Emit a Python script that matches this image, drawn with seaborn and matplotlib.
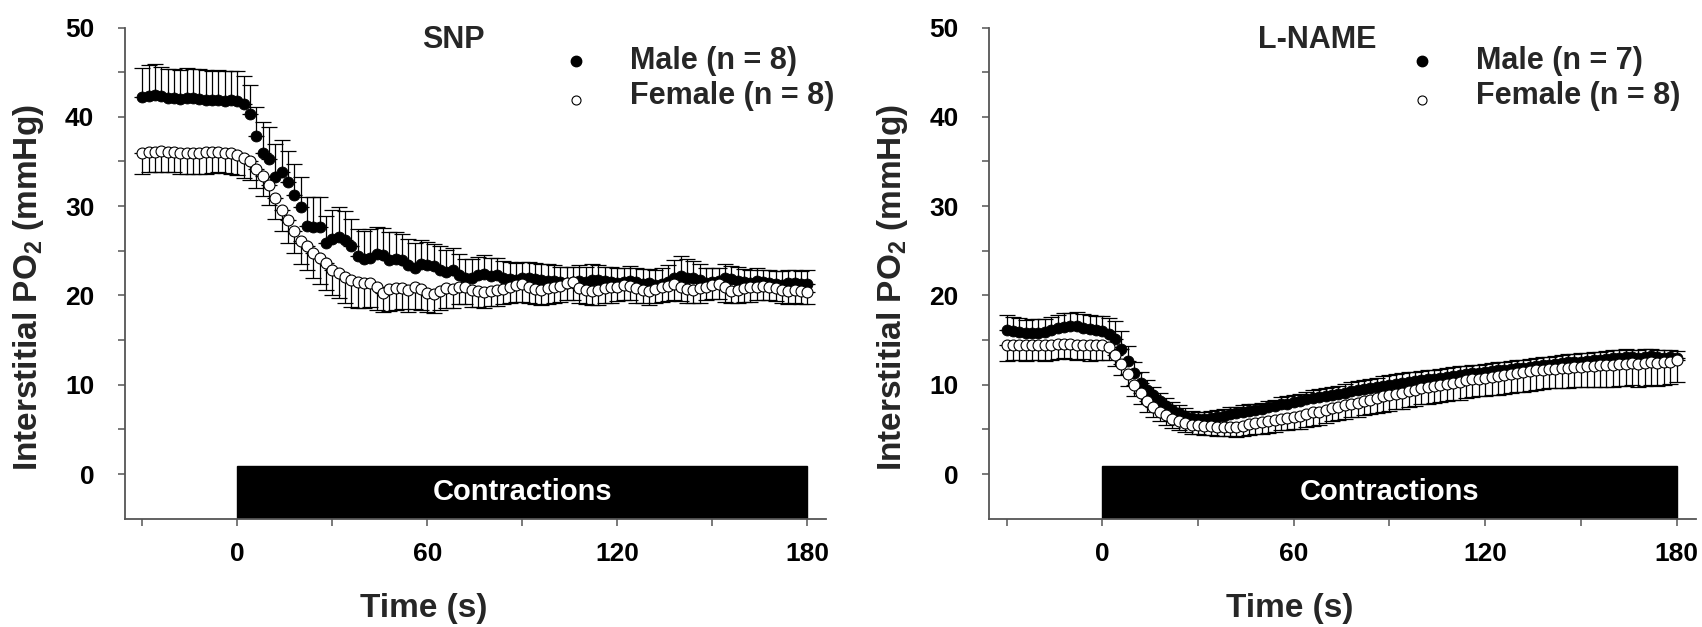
import numpy as np
import pandas as pd
import matplotlib
matplotlib.use("Agg")
import matplotlib.pyplot as plt
import seaborn as sns

# ---------------- data ----------------
time_s = list(range(-30, 181, 2))

snp_male = [42.2, 42.3, 42.5, 42.3, 42.1, 42.1, 42.0, 42.1, 42.1, 42.0, 41.9, 41.9, 41.9, 41.8, 41.9, 41.8,
            41.4, 40.3, 37.8, 36.0, 35.3, 33.3, 33.8, 32.7, 31.3, 29.9, 27.8, 27.7, 27.7, 25.9, 26.3, 26.5,
            26.2, 25.5, 24.4, 24.1, 24.2, 24.6, 24.5, 24.0, 24.1, 24.0, 23.4, 23.1, 23.5, 23.4, 23.3, 22.9,
            22.6, 22.9, 22.3, 21.9, 22.0, 22.3, 22.4, 22.2, 22.3, 22.0, 21.8, 21.7, 22.0, 21.9, 21.8, 21.7,
            21.6, 21.6, 21.5, 21.4, 21.5, 21.6, 21.5, 21.7, 21.7, 21.6, 21.5, 21.4, 21.5, 21.6, 21.5, 21.3,
            21.4, 21.2, 21.3, 21.5, 21.9, 22.2, 22.0, 21.9, 21.7, 21.4, 21.5, 21.6, 21.9, 21.8, 21.6, 21.5,
            21.4, 21.6, 21.5, 21.4, 21.3, 21.2, 21.4, 21.4, 21.3, 21.3]
snp_male_sem = [3.3, 3.5, 3.4, 3.3, 3.2, 3.3, 3.2, 3.4, 3.3, 3.4, 3.3, 3.2, 3.3, 3.3, 3.2, 3.3,
                3.2, 3.3, 3.3, 3.4, 3.6, 3.7, 3.6, 3.5, 3.4, 3.4, 3.2, 3.3, 3.3, 3.0, 3.3, 3.4,
                3.2, 3.1, 3.0, 3.1, 3.2, 3.1, 3.0, 3.1, 3.0, 2.9, 2.9, 2.8, 2.7, 2.6, 2.5, 2.6,
                2.5, 2.4, 2.3, 2.2, 2.1, 2.0, 2.1, 2.0, 1.9, 1.9, 2.0, 1.9, 1.8, 1.9, 1.8, 1.8,
                1.9, 1.8, 1.7, 1.8, 1.7, 1.8, 1.7, 1.8, 1.7, 1.6, 1.7, 1.7, 1.6, 1.7, 1.6, 1.7,
                1.6, 1.7, 1.8, 1.9, 2.1, 2.2, 2.1, 2.0, 1.8, 1.7, 1.6, 1.5, 1.6, 1.5, 1.6, 1.5,
                1.4, 1.5, 1.4, 1.5, 1.4, 1.5, 1.4, 1.5, 1.4, 1.5]
snp_female = [36.0, 36.1, 36.1, 36.2, 36.1, 36.1, 36.0, 36.0, 35.9, 36.0, 36.1, 36.1, 36.1, 36.0, 35.9, 35.7,
              35.4, 35.0, 34.2, 33.4, 32.4, 30.9, 29.6, 28.4, 27.2, 26.1, 25.5, 24.8, 24.2, 23.6, 22.9, 22.5,
              22.1, 21.7, 21.5, 21.4, 21.4, 21.0, 20.3, 20.7, 20.8, 20.8, 20.6, 21.0, 20.7, 20.3, 20.2, 20.5,
              20.8, 20.7, 21.0, 20.9, 20.6, 20.5, 20.4, 20.5, 20.6, 20.7, 20.9, 21.2, 21.3, 20.9, 20.7, 20.6,
              20.8, 20.9, 21.1, 21.4, 21.5, 20.8, 20.6, 20.5, 20.6, 20.8, 20.9, 21.0, 21.2, 21.1, 20.8, 20.6,
              20.5, 20.7, 20.9, 21.1, 21.3, 21.0, 20.7, 20.6, 20.8, 21.0, 21.2, 21.3, 20.9, 20.5, 20.6, 20.8,
              20.9, 21.0, 21.1, 21.0, 20.8, 20.6, 20.5, 20.6, 20.5, 20.4]
snp_female_sem = [2.4, 2.3, 2.3, 2.4, 2.3, 2.3, 2.4, 2.4, 2.3, 2.4, 2.5, 2.4, 2.3, 2.3, 2.3, 2.2,
                  2.2, 2.1, 2.2, 2.3, 2.3, 2.3, 2.4, 2.5, 2.5, 2.6, 2.7, 2.8, 2.9, 3.0, 2.9, 2.8,
                  2.9, 3.0, 2.9, 2.8, 2.7, 2.6, 2.2, 2.4, 2.4, 2.3, 2.4, 2.5, 2.3, 2.2, 2.2, 2.1,
                  2.2, 2.1, 2.0, 1.9, 1.9, 1.8, 1.8, 1.7, 1.8, 1.7, 1.8, 1.9, 2.0, 1.8, 1.7, 1.7,
                  1.8, 1.7, 1.8, 1.9, 2.0, 1.7, 1.6, 1.6, 1.7, 1.6, 1.7, 1.6, 1.7, 1.6, 1.6, 1.5,
                  1.6, 1.5, 1.6, 1.7, 1.8, 1.6, 1.5, 1.5, 1.6, 1.5, 1.6, 1.7, 1.6, 1.4, 1.5, 1.5,
                  1.6, 1.5, 1.6, 1.5, 1.4, 1.5, 1.5, 1.4, 1.5, 1.4]

lname_male = [16.1, 16.0, 15.9, 15.8, 15.8, 15.8, 15.9, 16.1, 16.3, 16.5, 16.6, 16.6, 16.4, 16.2, 16.1, 16.0,
              15.7, 15.1, 14.0, 12.7, 11.3, 10.2, 9.4, 8.8, 8.2, 7.6, 7.2, 6.8, 6.5, 6.3, 6.2, 6.2,
              6.3, 6.4, 6.5, 6.7, 6.8, 7.0, 7.1, 7.2, 7.3, 7.5, 7.6, 7.8, 7.9, 8.1, 8.2, 8.4,
              8.5, 8.6, 8.7, 8.9, 9.0, 9.1, 9.3, 9.4, 9.5, 9.6, 9.7, 9.9, 10.0, 10.1, 10.2, 10.3,
              10.4, 10.5, 10.6, 10.7, 10.8, 10.9, 11.0, 11.1, 11.2, 11.3, 11.3, 11.4, 11.5, 11.6, 11.7, 11.8,
              11.9, 11.9, 12.0, 12.1, 12.2, 12.2, 12.3, 12.4, 12.5, 12.5, 12.6, 12.7, 12.8, 12.8, 12.9, 13.0,
              13.0, 13.1, 13.1, 13.0, 13.1, 13.2, 13.1, 13.0, 13.1, 13.0]
lname_male_sem = [1.7, 1.6, 1.6, 1.5, 1.6, 1.6, 1.5, 1.5, 1.5, 1.5, 1.4, 1.5, 1.5, 1.6, 1.6, 1.7,
                  1.8, 2.0, 2.0, 1.6, 1.3, 1.2, 1.1, 1.0, 0.9, 0.9, 0.9, 0.9, 0.9, 0.8, 0.8, 0.8,
                  0.8, 0.8, 0.8, 0.8, 0.7, 0.7, 0.7, 0.7, 0.7, 0.7, 0.7, 0.8, 0.8, 0.8, 0.8, 0.8,
                  0.9, 0.9, 0.9, 0.9, 0.9, 1.0, 1.0, 1.0, 1.0, 1.1, 1.1, 1.1, 1.1, 1.1, 1.1, 1.1,
                  1.0, 1.0, 1.0, 1.0, 1.0, 1.0, 1.0, 1.0, 0.9, 0.9, 0.9, 0.9, 0.9, 0.9, 0.9, 0.9,
                  0.9, 0.9, 0.9, 0.9, 0.9, 0.9, 0.9, 0.9, 0.9, 0.9, 0.9, 0.9, 0.9, 0.9, 0.9, 0.9,
                  0.9, 0.9, 0.8, 0.9, 0.9, 0.8, 0.8, 0.9, 0.8, 0.8]
lname_female = [14.4, 14.5, 14.4, 14.4, 14.5, 14.4, 14.4, 14.5, 14.6, 14.6, 14.6, 14.5, 14.5, 14.4, 14.4, 14.4,
                14.2, 13.3, 12.3, 11.2, 10.0, 9.1, 8.2, 7.5, 7.0, 6.6, 6.2, 5.9, 5.7, 5.5, 5.5, 5.4,
                5.4, 5.3, 5.3, 5.3, 5.3, 5.4, 5.6, 5.7, 5.8, 5.9, 6.0, 6.2, 6.3, 6.4, 6.5, 6.7,
                6.9, 7.0, 7.2, 7.4, 7.5, 7.7, 7.9, 8.0, 8.2, 8.3, 8.5, 8.7, 8.8, 9.0, 9.1, 9.3,
                9.4, 9.6, 9.7, 9.9, 10.0, 10.1, 10.2, 10.3, 10.5, 10.6, 10.7, 10.8, 10.9, 11.0, 11.1, 11.2,
                11.3, 11.4, 11.5, 11.6, 11.7, 11.8, 11.8, 11.9, 11.9, 12.0, 12.0, 12.1, 12.1, 12.2, 12.2, 12.2,
                12.3, 12.3, 12.4, 12.3, 12.4, 12.5, 12.4, 12.5, 12.6, 12.8]
lname_female_sem = [1.7, 1.7, 1.6, 1.7, 1.7, 1.6, 1.7, 1.7, 1.7, 1.6, 1.7, 1.7, 1.6, 1.7, 1.6, 1.6,
                    1.4, 1.2, 1.2, 1.3, 1.3, 1.2, 1.2, 1.1, 1.1, 1.1, 1.0, 1.0, 1.0, 1.0, 1.0, 1.0,
                    1.0, 1.0, 1.0, 1.0, 1.1, 1.1, 1.2, 1.2, 1.3, 1.3, 1.3, 1.3, 1.4, 1.4, 1.4, 1.4,
                    1.5, 1.5, 1.5, 1.5, 1.5, 1.5, 1.5, 1.6, 1.6, 1.6, 1.7, 1.7, 1.7, 1.7, 1.8, 1.8,
                    1.8, 1.8, 1.9, 1.9, 1.9, 1.9, 1.9, 2.0, 2.0, 2.0, 2.0, 2.1, 2.1, 2.1, 2.1, 2.1,
                    2.1, 2.2, 2.2, 2.2, 2.2, 2.2, 2.2, 2.3, 2.3, 2.3, 2.3, 2.3, 2.3, 2.4, 2.4, 2.4,
                    2.4, 2.4, 2.4, 2.5, 2.5, 2.5, 2.5, 2.5, 2.5, 2.5]

panel_titles = ["SNP", "L-NAME"]
legend_labels = [["Male (n = 8)", "Female (n = 8)"], ["Male (n = 7)", "Female (n = 8)"]]
x_ticks = [0, 60, 120, 180]
x_minor = [-30, 30, 90, 150]
y_ticks = [0, 10, 20, 30, 40, 50]
y_minor = [5, 15, 25, 35, 45]
contraction_start, contraction_end = 0, 180
contraction_top = 0.9
contraction_label = "Contractions"

# ---------------- style ----------------
sns.set_theme(style="ticks")
plt.rcParams['font.family'] = ['Liberation Sans', 'DejaVu Sans']
plt.rcParams['font.weight'] = 'bold'
plt.rcParams['axes.labelweight'] = 'bold'
plt.rcParams['mathtext.fontset'] = 'custom'
plt.rcParams['mathtext.rm'] = 'Liberation Sans:bold'
plt.rcParams['mathtext.default'] = 'rm'

AX_COL = '#555555'
YMIN, YMAX = -5, 50
XMIN, XMAX = -35.5, 186

fig = plt.figure(figsize=(17.02, 6.27), dpi=100)
axes = [fig.add_axes([0.0734, 0.1727, 0.4122, 0.7834]),
        fig.add_axes([0.5811, 0.1727, 0.4152, 0.7834])]

panels = [
    (snp_male, snp_male_sem, snp_female, snp_female_sem),
    (lname_male, lname_male_sem, lname_female, lname_female_sem),
]

t = np.array(time_s)
for i, (ax, (m, msem, f, fsem)) in enumerate(zip(axes, panels)):
    m, msem, f, fsem = map(np.array, (m, msem, f, fsem))
    # contraction bar
    ax.bar(contraction_start, contraction_top - YMIN, width=contraction_end - contraction_start,
           bottom=YMIN, align='edge', color='black', edgecolor='black', zorder=1)
    ax.text((contraction_start + contraction_end) / 2, (contraction_top + YMIN) / 2, contraction_label,
            color='white', ha='center', va='center', fontsize=21, fontweight='bold', zorder=2)
    # male: error bars upward
    ax.errorbar(t, m, yerr=[np.zeros_like(msem), msem], fmt='none', ecolor='black',
                elinewidth=0.9, capsize=5.5, capthick=0.9, zorder=3)
    sns.scatterplot(x=t, y=m, ax=ax, color='black', edgecolor='black', s=62, linewidth=0.6,
                    zorder=4, legend=False)
    # female: error bars downward
    ax.errorbar(t, f, yerr=[fsem, np.zeros_like(fsem)], fmt='none', ecolor='black',
                elinewidth=0.9, capsize=5.5, capthick=0.9, zorder=5)
    sns.scatterplot(x=t, y=f, ax=ax, color='white', edgecolor='black', s=62, linewidth=0.8,
                    zorder=6, legend=False)

    ax.set_xlim(XMIN, XMAX)
    ax.set_ylim(YMIN, YMAX)
    ax.set_xticks(x_ticks)
    ax.set_xticks(x_minor, minor=True)
    ax.set_yticks(y_ticks)
    ax.set_yticks(y_minor, minor=True)
    ax.tick_params(axis='both', which='both', direction='out', length=5, width=1.1,
                   color=AX_COL, labelsize=19, labelcolor='black')
    ax.tick_params(axis='y', which='major', pad=17)
    ax.tick_params(axis='x', which='major', pad=12)
    for sp in ['top', 'right']:
        ax.spines[sp].set_visible(False)
    for sp in ['left', 'bottom']:
        ax.spines[sp].set_color(AX_COL)
        ax.spines[sp].set_linewidth(1.3)
    ax.set_facecolor('white')

    ax.set_xlabel("Time (s)", fontsize=24, fontweight='bold', va='center')
    ax.set_ylabel("Interstitial PO$_2$ (mmHg)", fontsize=24, fontweight='bold', va='center')
    ax.xaxis.set_label_coords(0.426, -0.182)
    ax.yaxis.set_label_coords(-0.137, 0.47)

    # title
    title_x = 0.4676 if i == 0 else 0.464
    ax.text(title_x, 0.975, panel_titles[i], transform=ax.transAxes, ha='center', va='center',
            fontsize=22, fontweight='bold')
    # legend keys
    mk_x = 0.643 if i == 0 else 0.612
    tx_x = 0.72 if i == 0 else 0.689
    rows = [0.932, 0.860]
    ax.plot([mk_x], [rows[0]], marker='o', ms=7.5, mfc='black', mec='black', transform=ax.transAxes,
            clip_on=False, ls='none')
    ax.plot([mk_x], [rows[1] - 0.008], marker='o', ms=6.5, mfc='white', mec='black', mew=0.8,
            transform=ax.transAxes, clip_on=False, ls='none')
    for r, lab in zip(rows, legend_labels[i]):
        ax.text(tx_x, r, lab, transform=ax.transAxes, ha='left', va='center',
                fontsize=22, fontweight='bold')

fig.patch.set_facecolor('white')
fig.savefig("out.png", dpi=100, facecolor='white')
